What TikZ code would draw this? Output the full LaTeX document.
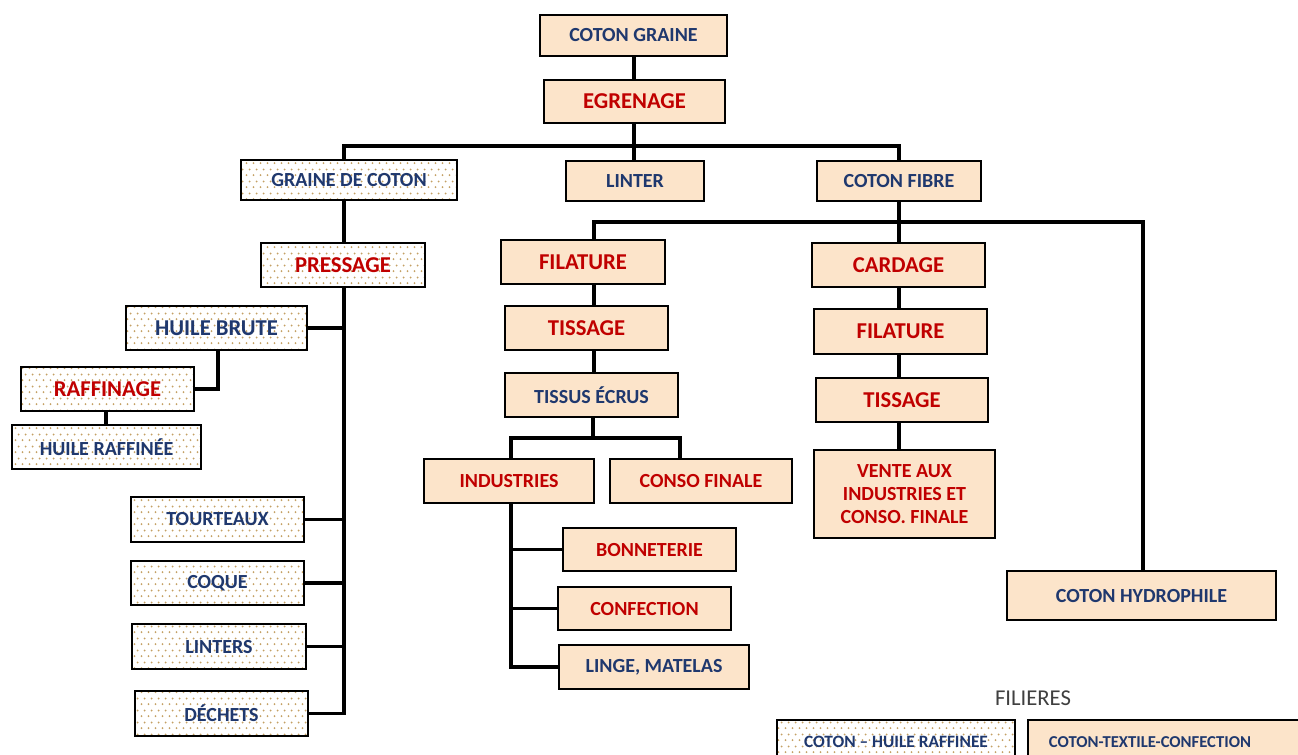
\documentclass[tikz,border=0pt]{standalone}
\usepackage{fontspec}
\setmainfont{Carlito}
\usetikzlibrary{patterns}

\definecolor{peach}{RGB}{252,228,202}
\definecolor{navy}{RGB}{31,56,110}
\definecolor{dred}{RGB}{192,0,0}
\definecolor{dotc}{RGB}{196,160,100}
\definecolor{legtext}{RGB}{64,64,64}

% staggered dot fill
\pgfdeclarepatternformonly{hexdots}{\pgfpointorigin}{\pgfpoint{5.25pt}{9pt}}{\pgfpoint{5.25pt}{9pt}}{%
  \pgfpathcircle{\pgfpoint{1.3pt}{2.25pt}}{0.85pt}%
  \pgfpathcircle{\pgfpoint{3.925pt}{6.75pt}}{0.85pt}%
  \pgfusepath{fill}}

\tikzset{
  box/.style={draw=black, line width=2pt, inner sep=0pt, align=center, font=\bfseries},
  plain/.style={box, fill=peach},
  dotted box/.style={box, pattern=hexdots, pattern color=dotc},
  big/.style={font=\bfseries\fontsize{17}{20}\selectfont},
  small/.style={font=\bfseries\fontsize{15}{17.5}\selectfont},
  blue text/.style={text=navy},
  red text/.style={text=dred},
  link/.style={draw=black, line width=2.4pt},
}

% box given by its corners: name, style, x1, y1, x2, y2, text
\newcommand\cornerbox[7]{%
  \node[#2, minimum width={(#5-#3)*0.75pt}, minimum height={(#6-#4)*0.75pt}]
    (#1) at ({(#3+#5)/2},{(#4+#6)/2}) {#7};}

\begin{document}
\begin{tikzpicture}[x=0.75pt, y=-0.75pt]
\useasboundingbox (0,0) rectangle (1298,754);
\fill[white] (0,0) rectangle (1298,754);
\clip (0,0) rectangle (1298,754);

% top of the tree
\cornerbox{cg}{plain, small, blue text}{540}{15}{727}{56}{COTON GRAINE}
\cornerbox{eg}{plain, big, red text}{544}{80}{725}{123}{EGRENAGE}
\cornerbox{gdc}{dotted box, small, blue text}{241}{160}{457}{200}{GRAINE DE COTON}
\cornerbox{lint}{plain, small, blue text}{566}{161}{704}{201}{LINTER}
\cornerbox{cf}{plain, small, blue text}{817}{161}{981}{201}{COTON FIBRE}

% oil branch
\cornerbox{pres}{dotted box, big, red text}{261}{243}{425}{287}{PRESSAGE}
\cornerbox{hb}{dotted box, big, blue text}{126}{306}{307}{350}{HUILE BRUTE}
\cornerbox{raff}{dotted box, big, red text}{21}{367}{194}{411}{RAFFINAGE}
\cornerbox{hr}{dotted box, small, blue text}{12}{425}{201}{469}{HUILE RAFFINÉE}
\cornerbox{tourt}{dotted box, small, blue text}{131}{497}{304}{542}{TOURTEAUX}
\cornerbox{coque}{dotted box, small, blue text}{131}{561}{304}{605}{COQUE}
\cornerbox{linters}{dotted box, small, blue text}{132}{624}{306}{669}{LINTERS}
\cornerbox{dechets}{dotted box, small, blue text}{135}{691}{308}{736}{DÉCHETS}

% textile branch
\cornerbox{fil1}{plain, big, red text}{501}{240}{665}{284}{FILATURE}
\cornerbox{tis1}{plain, big, red text}{505}{306}{668}{350}{TISSAGE}
\cornerbox{tecr}{plain, small, blue text}{505}{373}{678}{417}{TISSUS ÉCRUS}
\cornerbox{ind}{plain, small, red text}{424}{459}{594}{503}{INDUSTRIES}
\cornerbox{conso}{plain, small, red text}{610}{459}{792}{503}{CONSO FINALE}
\cornerbox{bonn}{plain, small, red text}{563}{528}{736}{571}{BONNETERIE}
\cornerbox{conf}{plain, small, red text}{558}{587}{731}{630}{CONFECTION}
\cornerbox{linge}{plain, small, blue text}{559}{645}{749}{689}{LINGE, MATELAS}

% fibre branch
\cornerbox{card}{plain, big, red text}{812}{243}{985}{287}{CARDAGE}
\cornerbox{fil2}{plain, big, red text}{814}{309}{987}{354}{FILATURE}
\cornerbox{tis2}{plain, big, red text}{816}{378}{988}{422}{TISSAGE}
\cornerbox{vente}{plain, small, red text}{814}{450}{995}{538}{VENTE AUX\\INDUSTRIES ET\\CONSO. FINALE}
\cornerbox{hydro}{plain, small, blue text}{1007}{571}{1276}{620}{COTON HYDROPHILE}

% legend
\node[text=legtext, font=\fontsize{17}{20}\selectfont] (legt) at (1033,698) {FILIERES};
\cornerbox{leg1}{dotted box}{777}{720}{1015}{766}{}
\node[blue text, font=\bfseries\fontsize{13}{15}\selectfont] (leg1t) at (896,742) {COTON – HUILE RAFFINEE};
\cornerbox{leg2}{plain}{1028}{720}{1320}{766}{}
\node[blue text, font=\bfseries\fontsize{12.5}{15}\selectfont] (leg2t) at (1150,742) {COTON-TEXTILE-CONFECTION};

% junction points
\coordinate (top) at (634,146);
\coordinate (lx) at (344,146);
\coordinate (rx) at (899,146);
\coordinate (fib) at (899,222);
\coordinate (fibL) at (594,222);
\coordinate (fibR) at (1143,222);
\coordinate (hbx) at (218,0);
\coordinate (rfx) at (106,0);
\coordinate (tx) at (593,438);
\coordinate (indL) at (511,438);
\coordinate (indR) at (680,438);

% connectors
\draw[link] (top |- cg.south) -- (top |- eg.north);
\draw[link] (top |- eg.south) -- (top);
\draw[link] (lx |- gdc.north) -- (lx) -- (rx) -- (rx |- cf.north);
\draw[link] (top) -- (top |- lint.north);
\draw[link] (lx |- gdc.south) -- (lx |- pres.north);
\draw[link] (lx |- pres.south) |- (dechets.east);
\draw[link] (hb.east) -- (lx |- hb.east);
\draw[link] (hbx |- hb.south) |- (raff.east);
\draw[link] (rfx |- raff.south) -- (rfx |- hr.north);
\draw[link] (tourt.east) -- (lx |- tourt.east);
\draw[link] (coque.east) -- (lx |- coque.east);
\draw[link] (linters.east) -- (lx |- linters.east);

\draw[link] (fib |- cf.south) -- (fib |- card.north);
\draw[link] (fibL |- fil1.north) -- (fibL) -- (fibR) -- (fibR |- hydro.north);
\draw[link] (fibL |- fil1.south) -- (fibL |- tis1.north);
\draw[link] (fibL |- tis1.south) -- (fibL |- tecr.north);
\draw[link] (tx |- tecr.south) -- (tx);
\draw[link] (indL |- ind.north) -- (indL) -- (indR) -- (indR |- conso.north);
\draw[link] (indL |- ind.south) |- (linge.west);
\draw[link] (bonn.west) -- (indL |- bonn.west);
\draw[link] (conf.west) -- (indL |- conf.west);

\draw[link] (fib |- card.south) -- (fib |- fil2.north);
\draw[link] (fib |- fil2.south) -- (fib |- tis2.north);
\draw[link] (fib |- tis2.south) -- (fib |- vente.north);
\end{tikzpicture}
\end{document}
